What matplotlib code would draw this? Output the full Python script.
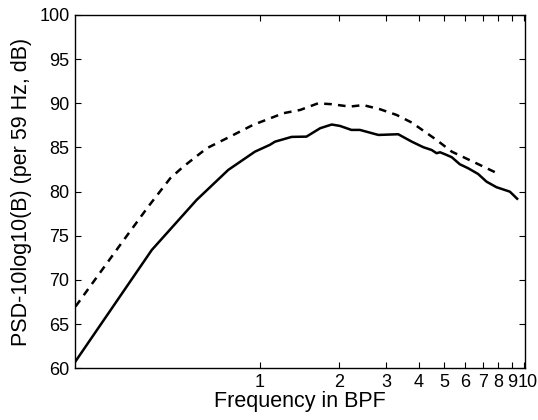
import matplotlib
matplotlib.use("Agg")
import matplotlib.pyplot as plt
import matplotlib.transforms as mtransforms
from matplotlib.ticker import FixedLocator, FixedFormatter, NullLocator

plt.rcParams['font.family'] = ['Liberation Sans', 'DejaVu Sans']
plt.rcParams['lines.scale_dashes'] = False

# Solid curve
solid_x = [0.2, 0.389, 0.575, 0.758, 0.957, 1.09, 1.14, 1.318, 1.50, 1.69, 1.87,
           2.01, 2.22, 2.39, 2.81, 3.34, 3.76, 4.16, 4.47, 4.67, 4.81, 5.02, 5.33,
           5.72, 6.15, 6.71, 7.22, 7.88, 8.85, 9.43]
solid_y = [60.8, 73.4, 79.06, 82.46, 84.53, 85.3, 85.66, 86.2, 86.23, 87.18, 87.6,
           87.44, 86.99, 86.99, 86.42, 86.5, 85.66, 85.03, 84.72, 84.35, 84.46, 84.24, 83.9,
           83.1, 82.65, 82.0, 81.13, 80.5, 80.0, 79.2]

# Dashed curve
dash_x = [0.2, 0.295, 0.377, 0.457, 0.512, 0.628, 0.77, 0.94, 1.226, 1.42, 1.66,
          1.87, 2.19, 2.46, 2.85, 3.29, 3.76, 4.67, 5.33, 6.62, 7.93]
dash_y = [67.0, 73.96, 78.3, 81.52, 82.83, 84.91, 86.23, 87.55, 88.88, 89.25, 90.0,
          89.9, 89.63, 89.8, 89.33, 88.69, 87.82, 85.85, 84.53, 83.2, 82.08]

xticks = [1, 2, 3, 4, 5, 6, 7, 8, 9, 10]
xticklabels = ['1', '2', '3', '4', '5', '6', '7', '8', '9', '10']
yticks = [60, 65, 70, 75, 80, 85, 90, 95, 100]

fig = plt.figure(figsize=(5.38, 4.2), dpi=100)
ax = fig.add_axes([75/538, 1 - 368.3/420, 450/538, 353.3/420])

ax.plot(solid_x, solid_y, color='black', lw=1.8, solid_joinstyle='round')
ln, = ax.plot(dash_x, dash_y, color='black', lw=1.8)
ln.set_dashes([5.5, 4.5])

ax.set_xscale('log')
ax.set_xlim(0.199, 10.1)
ax.set_ylim(60, 100)
ax.xaxis.set_major_locator(FixedLocator(xticks))
ax.xaxis.set_major_formatter(FixedFormatter(xticklabels))
ax.xaxis.set_minor_locator(NullLocator())
ax.set_yticks(yticks)

ax.tick_params(axis='both', which='both', direction='in', top=True, right=True,
               length=4, width=0.8, labelsize=13, pad=4)
for s in ax.spines.values():
    s.set_linewidth(1.0)

# nudge the crowded "10" label slightly right, as in the reference
lbl = ax.get_xticklabels()[-1]
lbl.set_transform(lbl.get_transform() + mtransforms.ScaledTranslation(4/100, 0, fig.dpi_scale_trans))

ax.set_xlabel('Frequency in BPF', fontsize=15.5, labelpad=0)
ax.set_ylabel('PSD-10log10(B) (per 59 Hz, dB)', fontsize=15.5, labelpad=5)

fig.savefig('out.png', dpi=100)
